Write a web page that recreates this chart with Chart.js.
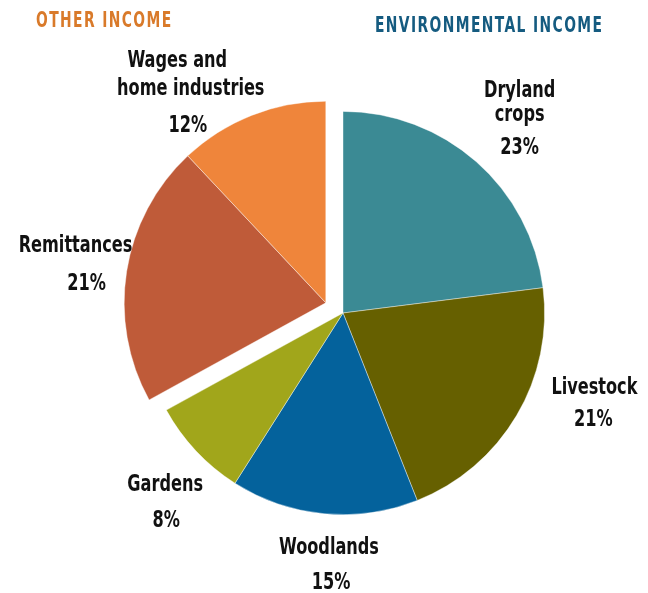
<!DOCTYPE html>
<html>
<head>
<meta charset="utf-8">
<script src="https://cdn.jsdelivr.net/npm/chart.js@4.4.0/dist/chart.umd.min.js"></script>
<style>
  html, body { margin: 0; padding: 0; background: #fff; }
  #wrap { width: 648px; height: 593px; position: relative; }
</style>
</head>
<body>
<div id="wrap"><canvas id="myChart" width="648" height="593"></canvas></div>
<script>
// income sources, percent of household income
const categories = [["Dryland", "crops"], ["Livestock"], ["Woodlands"], ["Gardens"], ["Remittances"], ["Wages and", "home industries"]];
const shares = [23, 21, 15, 8, 21, 12];
const groups = ["ENVIRONMENTAL INCOME", "OTHER INCOME"];
const groupOf = [0, 0, 0, 0, 1, 1];

const colores = ["#3b8a94", "#666000", "#04629c", "#a1a61b", "#bf5b39", "#ef853b"];
const FONT = '"DejaVu Sans Condensed", "Liberation Sans Narrow", Arial, sans-serif';

// pulls the "other income" slices out together, like one wedge
const explodePlugin = {
  id: "explode",
  afterDatasetsUpdate(chart) {
    const meta = chart.getDatasetMeta(0);
    const idx = groupOf.map((g, i) => (g === 1 ? i : -1)).filter((i) => i >= 0);
    if (!idx.length) return;
    const a0 = meta.data[idx[0]].startAngle;
    const a1 = meta.data[idx[idx.length - 1]].endAngle;
    const mid = (a0 + a1) / 2;
    const dist = 20;
    idx.forEach((i) => {
      meta.data[i].x += Math.cos(mid) * dist;
      meta.data[i].y += Math.sin(mid) * dist;
    });
  },
};

function narrowText(ctx, t, x, y, sx) {
  ctx.save();
  ctx.translate(x, y);
  ctx.scale(sx, 1);
  ctx.fillText(t, 0, 0);
  ctx.restore();
}

// slice labels outside the pie
const labelPlugin = {
  id: "sliceLabels",
  afterDraw(chart, args, opts) {
    const ctx = chart.ctx;
    const meta = chart.getDatasetMeta(0);
    ctx.save();
    ctx.fillStyle = "#111";
    ctx.textAlign = "center";
    ctx.textBaseline = "middle";
    ctx.font = "bold 23px " + FONT;
    meta.data.forEach((el, i) => {
      const mid = (el.startAngle + el.endAngle) / 2 + (opts.angleNudge[i] * Math.PI) / 180;
      const r = el.outerRadius * opts.dist[i];
      const cx = el.x + Math.cos(mid) * r;
      const cy = el.y + Math.sin(mid) * r + 2;
      const lines = categories[i].concat([shares[i] + "%"]);
      const h = (lines.length - 2) * opts.lineGap[i] + opts.pctGap[i];
      const shift = opts.lineShift[i] || [];
      let y = cy - h / 2;
      lines.forEach((t, k) => {
        narrowText(ctx, t, cx + (shift[k] || 0), y, 0.78);
        y += k === lines.length - 2 ? opts.pctGap[i] : opts.lineGap[i];
      });
    });

    // group headings
    ctx.font = "bold 22px " + FONT;
    ctx.letterSpacing = "2px";
    ctx.textAlign = "left";
    ctx.fillStyle = "#d97a2a";
    narrowText(ctx, groups[1], 36, 21, 0.7);
    ctx.fillStyle = "#155b80";
    narrowText(ctx, groups[0], 375, 26, 0.7);
    ctx.restore();
  },
};

var ctx = document.getElementById("myChart").getContext("2d");
var chart = new Chart(ctx, {
  type: "pie",
  data: {
    labels: categories.map((c) => c.join(" ")),
    datasets: [
      {
        data: shares,
        backgroundColor: colores,
        borderColor: "rgba(255,255,255,0.5)",
        borderWidth: 0.8,
      },
    ],
  },
  options: {
    responsive: false,
    animation: false,
    layout: { padding: { left: 141, right: 103, top: 111, bottom: 78 } },
    plugins: {
      legend: { display: false },
      tooltip: { enabled: false },
      sliceLabels: {
        angleNudge: [0.7, -11.1, -2.2, -3.4, 0, -11.0],
        dist: [1.307, 1.323, 1.245, 1.284, 1.257, 1.243],
        lineGap: [24, 28, 28, 28, 28, 28],
        pctGap: [33.5, 32.5, 35, 36, 38, 36.5],
        lineShift: [[0, 0, 0], [0, -1], [0, 2], [0, 1], [0, 11], [-13.5, 0, -3]],
      },
    },
  },
  plugins: [explodePlugin, labelPlugin],
});
</script>
</body>
</html>
